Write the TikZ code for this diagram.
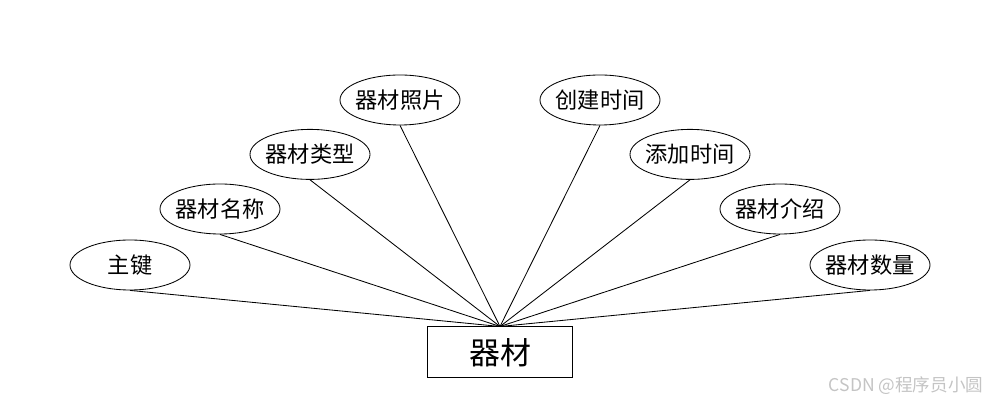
\documentclass[tikz,border=0pt]{standalone}
\usepackage{fontspec}
\setmainfont{Noto Sans CJK SC}
\usepackage{xcolor}
\usepackage{tikz}
\usetikzlibrary{shapes.geometric,positioning}
\definecolor{mark}{HTML}{C4C4C4}

\begin{document}
\begin{tikzpicture}[line width=0.6pt,
attr/.style={draw,ellipse,inner ysep=0pt,inner xsep=-2pt,minimum width=30mm,minimum height=12.5mm,font=\fontsize{15.8}{15.8}\selectfont},
entity/.style={draw,rectangle,inner sep=0pt,minimum width=36.25mm,minimum height=12.75mm,font=\fontsize{22}{22}\selectfont}]
\useasboundingbox (0,0) rectangle (25,10.2);
\node[entity] (equip) at (12.5,1.39) {器材};
\node[attr] (key) at (3.25,3.575) {主键};
\node[attr] (name) at (5.5,4.975) {器材名称};
\node[attr] (kind) at (7.75,6.34) {器材类型};
\node[attr] (photo) at (10,7.7) {器材照片};
\node[attr] (created) at (15,7.7) {创建时间};
\node[attr] (added) at (17.25,6.34) {添加时间};
\node[attr] (intro) at (19.5,4.975) {器材介绍};
\node[attr] (amount) at (21.75,3.575) {器材数量};
\foreach \a in {key,name,kind,photo,created,added,intro,amount}
  \draw (\a.south)--(equip.north);
\node[text=mark,font=\fontsize{12.5}{12.5}\selectfont] (sign) at (22.65,0.55) {CSDN @程序员小圆};
\end{tikzpicture}
\end{document}
